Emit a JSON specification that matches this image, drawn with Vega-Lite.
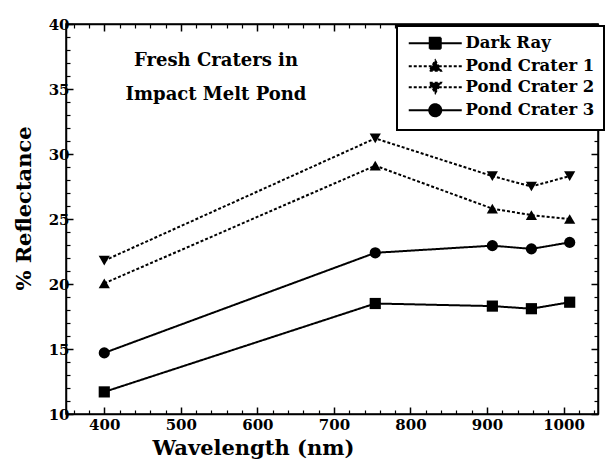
{
  "$schema": "https://vega.github.io/schema/vega-lite/v6.json",
  "width": 532,
  "height": 390,
  "autosize": {"type": "none"},
  "padding": {"left": 66, "top": 24, "right": 11, "bottom": 50},
  "background": "white",
  "config": {
    "view": {"stroke": "black", "strokeWidth": 1.5},
    "font": "DejaVu Serif"
  },
  "title": {
    "text": ["Fresh Craters in", "Impact Melt Pond"],
    "orient": "top",
    "frame": "group",
    "anchor": "start",
    "align": "center",
    "baseline": "top",
    "dx": 150,
    "dy": 61,
    "offset": -26,
    "font": "DejaVu Serif",
    "fontSize": 18,
    "fontWeight": "bold",
    "color": "black",
    "lineHeight": 34
  },
  "data": {
    "values": [
      {"series": "Dark Ray", "wavelength": 400, "reflectance": 11.7},
      {"series": "Dark Ray", "wavelength": 754, "reflectance": 18.5},
      {"series": "Dark Ray", "wavelength": 907, "reflectance": 18.3},
      {"series": "Dark Ray", "wavelength": 958, "reflectance": 18.1},
      {"series": "Dark Ray", "wavelength": 1008, "reflectance": 18.6},
      {"series": "Pond Crater 1", "wavelength": 400, "reflectance": 20.05},
      {"series": "Pond Crater 1", "wavelength": 754, "reflectance": 29.1},
      {"series": "Pond Crater 1", "wavelength": 907, "reflectance": 25.8},
      {"series": "Pond Crater 1", "wavelength": 958, "reflectance": 25.3},
      {"series": "Pond Crater 1", "wavelength": 1008, "reflectance": 25.0},
      {"series": "Pond Crater 2", "wavelength": 400, "reflectance": 21.8},
      {"series": "Pond Crater 2", "wavelength": 754, "reflectance": 31.2},
      {"series": "Pond Crater 2", "wavelength": 907, "reflectance": 28.3},
      {"series": "Pond Crater 2", "wavelength": 958, "reflectance": 27.5},
      {"series": "Pond Crater 2", "wavelength": 1008, "reflectance": 28.3},
      {"series": "Pond Crater 3", "wavelength": 400, "reflectance": 14.7},
      {"series": "Pond Crater 3", "wavelength": 754, "reflectance": 22.4},
      {"series": "Pond Crater 3", "wavelength": 907, "reflectance": 22.95},
      {"series": "Pond Crater 3", "wavelength": 958, "reflectance": 22.7},
      {"series": "Pond Crater 3", "wavelength": 1008, "reflectance": 23.2}
    ]
  },
  "resolve": {"axis": {"x": "independent", "y": "independent"}},
  "layer": [
    {
      "mark": {"type": "line", "color": "black", "strokeWidth": 2},
      "encoding": {
        "x": {
          "field": "wavelength", "type": "quantitative",
          "scale": {"domain": [350, 1045], "nice": false, "zero": false},
          "axis": {
            "orient": "bottom",
            "values": [400, 500, 600, 700, 800, 900, 1000],
            "format": "d",
            "tickSize": -7, "tickColor": "black", "tickWidth": 1.5,
            "domainColor": "black", "domainWidth": 1.5,
            "grid": false,
            "labelFont": "DejaVu Serif", "labelFontWeight": "bold", "labelFontSize": 15,
            "labelColor": "black", "labelPadding": 10, "labelFlush": false, "labelOverlap": false,
            "title": "Wavelength (nm)",
            "titleFont": "DejaVu Serif", "titleFontSize": 21, "titleFontWeight": "bold",
            "titleColor": "black", "titlePadding": 5, "titleX": 187
          }
        },
        "y": {
          "field": "reflectance", "type": "quantitative",
          "scale": {"domain": [10, 40], "nice": false, "zero": false},
          "axis": {
            "orient": "left",
            "values": [10, 15, 20, 25, 30, 35, 40],
            "tickSize": -7, "tickColor": "black", "tickWidth": 1.5,
            "domainColor": "black", "domainWidth": 1.5,
            "grid": false,
            "labelFont": "DejaVu Serif", "labelFontWeight": "bold", "labelFontSize": 15,
            "labelColor": "black", "labelPadding": 4, "labelFlush": false, "labelOverlap": false,
            "title": "% Reflectance",
            "titleFont": "DejaVu Serif", "titleFontSize": 21, "titleFontWeight": "bold",
            "titleColor": "black", "titlePadding": 14, "titleY": 184
          }
        },
        "strokeDash": {
          "field": "series", "type": "nominal",
          "scale": {
            "domain": ["Dark Ray", "Pond Crater 1", "Pond Crater 2", "Pond Crater 3"],
            "range": [[1, 0], [3, 2], [3, 2], [1, 0]]
          },
          "legend": {
            "orient": "none",
            "legendX": 331,
            "legendY": 2,
            "title": null,
            "strokeColor": "black",
            "fillColor": "white",
            "padding": 9,
            "symbolSize": 100,
            "symbolOffset": 21,
            "labelOffset": 22,
            "symbolFillColor": "black",
            "symbolStrokeColor": "black",
            "symbolStrokeWidth": 2,
            "labelFont": "DejaVu Serif",
            "labelFontSize": 16.5,
            "labelFontWeight": "bold",
            "labelColor": "black",
            "rowPadding": 3,
            "encoding": {
              "legend": {"strokeWidth": {"value": 2}},
              "symbols": {
                "shape": {"value": {"expr": "datum.value === 'Dark Ray' ? 'M-5.3,0H5.3M-1.1,-1.1H1.1V1.1H-1.1Z' : datum.value === 'Pond Crater 1' ? 'M-5.3,0H5.3M0,-1.15L1.15,0.9H-1.15Z' : datum.value === 'Pond Crater 2' ? 'M-5.3,0H5.3M0,1.15L1.15,-0.9H-1.15Z' : 'M-5.3,0H5.3M-1.2,0A1.2,1.2 0 1,0 1.2,0A1.2,1.2 0 1,0 -1.2,0Z'"}},
                "size": {"value": 100},
                "strokeWidth": {"value": 2},
                "fill": {"value": "black"},
                "stroke": {"value": "black"},
                "opacity": {"value": 1}
              }
            }
          }
        }
      }
    },
    {
      "mark": {"type": "point", "filled": true, "color": "black", "opacity": 1, "size": 125},
      "encoding": {
        "x": {
          "field": "wavelength", "type": "quantitative",
          "scale": {"domain": [350, 1045], "nice": false, "zero": false},
          "axis": {
            "orient": "bottom",
            "values": [360, 380, 420, 440, 460, 480, 520, 540, 560, 580, 620, 640, 660, 680, 720, 740, 760, 780, 820, 840, 860, 880, 920, 940, 960, 980, 1020, 1040],
            "tickSize": -4, "tickColor": "black", "tickWidth": 1.2,
            "domain": false, "labels": false, "grid": false, "title": null
          }
        },
        "y": {
          "field": "reflectance", "type": "quantitative",
          "scale": {"domain": [10, 40], "nice": false, "zero": false},
          "axis": {
            "orient": "left",
            "values": [11, 12, 13, 14, 16, 17, 18, 19, 21, 22, 23, 24, 26, 27, 28, 29, 31, 32, 33, 34, 36, 37, 38, 39],
            "tickSize": -4, "tickColor": "black", "tickWidth": 1.2,
            "domain": false, "labels": false, "grid": false, "title": null
          }
        },
        "shape": {
          "field": "series", "type": "nominal",
          "scale": {
            "domain": ["Pond Crater 3", "Dark Ray", "Pond Crater 1", "Pond Crater 2"],
            "range": ["circle", "square", "triangle-up", "triangle-down"]
          },
          "legend": null
        }
      }
    },
    {
      "mark": {"type": "point", "opacity": 0},
      "encoding": {
        "x": {
          "field": "wavelength", "type": "quantitative",
          "scale": {"domain": [350, 1045], "nice": false, "zero": false},
          "axis": {
            "orient": "top",
            "values": [400, 500, 600, 700, 800, 900, 1000],
            "tickSize": -7, "tickColor": "black", "tickWidth": 1.5,
            "domainColor": "black", "domainWidth": 1.5,
            "labels": false, "grid": false, "title": null
          }
        },
        "y": {
          "field": "reflectance", "type": "quantitative",
          "scale": {"domain": [10, 40], "nice": false, "zero": false},
          "axis": {
            "orient": "right",
            "values": [10, 15, 20, 25, 30, 35, 40],
            "tickSize": -7, "tickColor": "black", "tickWidth": 1.5,
            "domainColor": "black", "domainWidth": 1.5,
            "labels": false, "grid": false, "title": null
          }
        }
      }
    },
    {
      "mark": {"type": "point", "opacity": 0},
      "encoding": {
        "x": {
          "field": "wavelength", "type": "quantitative",
          "scale": {"domain": [350, 1045], "nice": false, "zero": false},
          "axis": {
            "orient": "top",
            "values": [360, 380, 420, 440, 460, 480, 520, 540, 560, 580, 620, 640, 660, 680, 720, 740, 760, 780, 820, 840, 860, 880, 920, 940, 960, 980, 1020, 1040],
            "tickSize": -4, "tickColor": "black", "tickWidth": 1.2,
            "domain": false, "labels": false, "grid": false, "title": null
          }
        },
        "y": {
          "field": "reflectance", "type": "quantitative",
          "scale": {"domain": [10, 40], "nice": false, "zero": false},
          "axis": {
            "orient": "right",
            "values": [11, 12, 13, 14, 16, 17, 18, 19, 21, 22, 23, 24, 26, 27, 28, 29, 31, 32, 33, 34, 36, 37, 38, 39],
            "tickSize": -4, "tickColor": "black", "tickWidth": 1.2,
            "domain": false, "labels": false, "grid": false, "title": null
          }
        }
      }
    }
  ]
}
